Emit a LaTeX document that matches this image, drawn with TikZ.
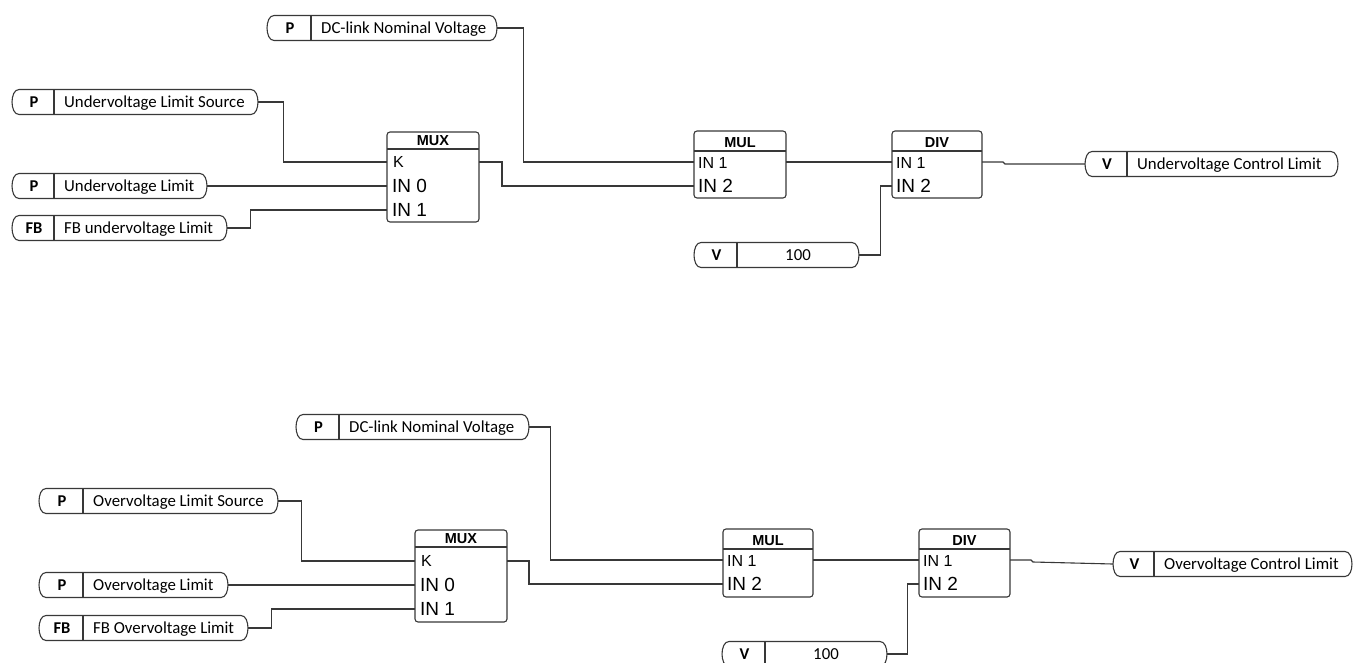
\documentclass[tikz,border=0pt]{standalone}
\usepackage{fontspec}
\newfontfamily\termfont{Carlito}
\newfontfamily\blkfont{Liberation Sans}
\tikzset{
  wire/.style={draw=black!78, line width=1.1pt},
  termbox/.style={inner sep=0pt, minimum height=25pt},
  termlet/.style={font=\termfont\fontsize{16.5}{18}\selectfont\bfseries, inner sep=0pt, anchor=base},
  termtxt/.style={font=\termfont\fontsize{16.8}{18}\selectfont, inner sep=0pt, anchor=base west},
  termmid/.style={font=\termfont\fontsize{16.8}{18}\selectfont, inner sep=0pt, anchor=base},
  blockbox/.style={draw=black!78, line width=1.1pt, rounded corners=3pt},
  headline/.style={draw=black!78, line width=1.6pt},
  blocktitle/.style={font=\blkfont\fontsize{14.5}{16}\selectfont\bfseries, inner sep=0pt, anchor=base},
  pinsmall/.style={font=\blkfont\fontsize{16}{16}\selectfont, inner sep=0pt, anchor=base west},
  pinbig/.style={font=\blkfont\fontsize{19}{20}\selectfont, inner sep=0pt, anchor=base west},
}
% #1 name, #2 x1, #3 x2, #4 xdiv, #5 yc, #6 letter, #7 text style, #8 text
\newcommand\terminal[8]{%
  \node[termbox, minimum width={(#3-#2)*1pt}] (#1) at ({(#2+#3)/2},#5) {};
  \draw[wire] ({#2+7},{#5-12.5}) -- ({#3-7},{#5-12.5})
     .. controls ({#3+2.3},{#5-12.5}) and ({#3+2.3},{#5+12.5}) .. ({#3-7},{#5+12.5})
     -- ({#2+7},{#5+12.5})
     .. controls ({#2-2.3},{#5+12.5}) and ({#2-2.3},{#5-12.5}) .. ({#2+7},{#5-12.5}) -- cycle;
  \draw[wire] (#4,{#5-12.5}) -- (#4,{#5+12.5});
  \node[termlet] at ({(#2+#4)/2+1},{#5+5.3}) {#6};
  \ifx#7c\relax
    \node[termmid] at ({(#4+#3)/2},{#5+5.3}) {#8};
  \else
    \node[termtxt] at ({#4+10},{#5+5.3}) {#8};
  \fi
}
% #1 name, #2 x1, #3 y1, #4 x2, #5 y2, #6 yh, #7 title
\newcommand\fblock[7]{%
  \node[inner sep=0pt, minimum width={(#4-#2)*1pt}, minimum height={(#5-#3)*1pt}] (#1) at ({(#2+#4)/2},{(#3+#5)/2}) {};
  \draw[blockbox] (#2,#3) rectangle (#4,#5);
  \draw[headline] (#2,#6) -- (#4,#6);
  \node[blocktitle] at ({(#2+#4)/2},{#6-3.5}) {#7};
}
\begin{document}
\begin{tikzpicture}[x=1pt,y=-1pt]
\useasboundingbox[fill=white] (0,0) rectangle (1353,662);

% ================= TOP =================
\terminal{dca}{267}{497}{311}{28}{P}{l}{DC-link Nominal Voltage}
\terminal{srca}{12}{258}{54}{102}{P}{l}{Undervoltage Limit Source}
\terminal{lima}{12}{207}{54}{186}{P}{l}{Undervoltage Limit}
\terminal{fba}{12}{227}{54}{228}{FB}{l}{FB undervoltage Limit}
\terminal{cona}{694}{859}{737}{255}{V}{c}{100}
\terminal{outa}{1085}{1338}{1127}{164}{V}{l}{Undervoltage Control Limit}

\fblock{muxa}{387}{132}{479}{222}{149}{MUX}
\coordinate (muxaK) at (387,162);
\coordinate (muxaA) at (387,186);
\coordinate (muxaB) at (387,210);
\coordinate (muxaO) at (479,162);
\node[pinsmall] at (393,167) {K};
\node[pinbig] at (392,192) {IN 0};
\node[pinbig] at (392,216) {IN 1};

\fblock{mula}{694}{131}{786}{198}{151}{MUL}
\coordinate (mulaA) at (694,162);
\coordinate (mulaB) at (694,186);
\coordinate (mulaO) at (786,162);
\node[pinsmall] at (698,168) {IN 1};
\node[pinbig] at (698,192) {IN 2};

\fblock{diva}{892}{131}{982}{198}{151}{DIV}
\coordinate (divaA) at (892,162);
\coordinate (divaB) at (892,186);
\coordinate (divaO) at (982,162);
\node[pinsmall] at (896,168) {IN 1};
\node[pinbig] at (896,192) {IN 2};

\draw[wire] (srca.east) -- ++(25,0) |- (muxaK);
\draw[wire] (lima.east) -- (muxaA);
\draw[wire] (fba.east) -- ++(23,0) |- (muxaB);
\draw[wire] (muxaO) -- ++(23,0) |- (mulaB);
\draw[wire] (dca.east) -- ++(26,0) |- (mulaA);
\draw[wire] (mulaO) -- (divaA);
\draw[wire] (cona.east) -- ++(21,0) |- (divaB);
\draw[wire] (divaO) -- ++(21,0) -- ++(2,2) -- (outa.west);

% ================= BOTTOM =================
\terminal{dcb}{296}{529}{339}{427}{P}{l}{DC-link Nominal Voltage}
\terminal{srcb}{39}{278}{83}{501}{P}{l}{Overvoltage Limit Source}
\terminal{limb}{39}{228}{83}{585}{P}{l}{Overvoltage Limit}
\terminal{fbb}{39}{248}{83}{628}{FB}{l}{FB Overvoltage Limit}
\terminal{conb}{722}{887}{765}{654}{V}{c}{100}
\terminal{outb}{1113}{1352}{1154}{564}{V}{l}{Overvoltage Control Limit}

\fblock{muxb}{415}{530}{507}{622}{547}{MUX}
\coordinate (muxbK) at (415,561);
\coordinate (muxbA) at (415,585);
\coordinate (muxbB) at (415,609);
\coordinate (muxbO) at (507,561);
\node[pinsmall] at (421,566) {K};
\node[pinbig] at (420,591) {IN 0};
\node[pinbig] at (420,615) {IN 1};

\fblock{mulb}{723}{529}{813}{597}{549}{MUL}
\coordinate (mulbA) at (723,560);
\coordinate (mulbB) at (723,584);
\coordinate (mulbO) at (813,560);
\node[pinsmall] at (727,566) {IN 1};
\node[pinbig] at (727,590) {IN 2};

\fblock{divb}{919}{529}{1010}{597}{549}{DIV}
\coordinate (divbA) at (919,560);
\coordinate (divbB) at (919,584);
\coordinate (divbO) at (1010,560);
\node[pinsmall] at (923,566) {IN 1};
\node[pinbig] at (923,590) {IN 2};

\draw[wire] (srcb.east) -- ++(23,0) |- (muxbK);
\draw[wire] (limb.east) -- (muxbA);
\draw[wire] (fbb.east) -- ++(23,0) |- (muxbB);
\draw[wire] (muxbO) -- ++(22,0) |- (mulbB);
\draw[wire] (dcb.east) -- ++(21,0) |- (mulbA);
\draw[wire] (mulbO) -- (divbA);
\draw[wire] (conb.east) -- ++(20,0) |- (divbB);
\draw[wire] (divbO) -- ++(21,0) -- ++(2,2) -- (outb.west);
\end{tikzpicture}
\end{document}
